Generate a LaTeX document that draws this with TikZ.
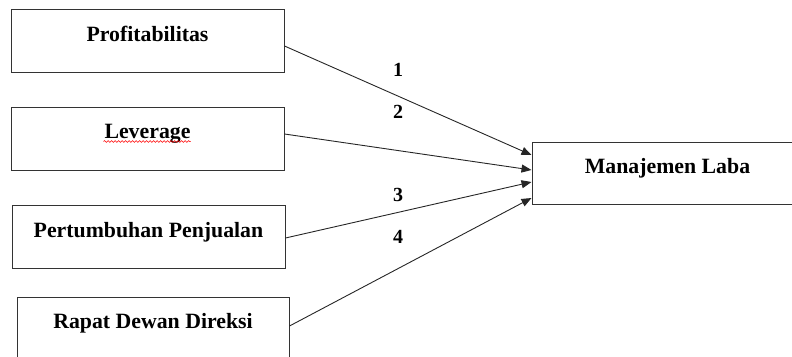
\documentclass[tikz,border=0pt]{standalone}
\usepackage{fontspec}
\setmainfont{Liberation Serif}
\usetikzlibrary{arrows.meta,decorations.pathmorphing}

\begin{document}
\begin{tikzpicture}[x=1pt,y=-1pt]
        \tikzset{VarBox/.style={draw=black!80, line width=1pt, minimum height=63pt,
            minimum width=273pt, inner sep=0pt, text height=15pt, text depth=15pt,
            font=\bfseries\fontsize{21.8}{26}\selectfont}}
        \tikzset{PathNum/.style={font=\bfseries\fontsize{20}{24}\selectfont, inner sep=0pt}}
        \tikzset{EdgeStyle/.style={black!85, line width=0.9pt, -{Triangle[length=10pt,width=8pt]}}}
        \useasboundingbox (0,0) rectangle (792,356);
        \node[VarBox] (prof) at (147.5,41) {Profitabilitas};
        \node[VarBox] (lev) at (147.5,138.5) {Leverage};
        \node[VarBox] (tumb) at (148.5,237) {Pertumbuhan Penjualan};
        \node[VarBox, minimum height=62pt, minimum width=272pt] (rapat) at (153,328) {Rapat Dewan Direksi};
        \node[VarBox, minimum height=62pt, minimum width=271pt] (laba) at (667.5,173) {Manajemen Laba};
        \draw[red, line width=0.6pt, decorate, decoration={snake, amplitude=0.9pt, segment length=3.5pt}]
            ([xshift=-44pt,yshift=-3pt]lev.center) -- ([xshift=43pt,yshift=-3pt]lev.center);
        \draw[EdgeStyle] ([yshift=-5pt]prof.east) -- ([yshift=18pt]laba.west);
        \draw[EdgeStyle] ([yshift=4.5pt]lev.east) -- ([yshift=3pt]laba.west);
        \draw[EdgeStyle] ([yshift=-1pt]tumb.east) -- ([yshift=-9pt]laba.west);
        \draw[EdgeStyle] ([yshift=2pt]rapat.east) -- ([yshift=-25pt]laba.west);
        \node[PathNum] (n1) at (398,70) {1};
        \node[PathNum] (n2) at (398,112) {2};
        \node[PathNum] (n3) at (398,195) {3};
        \node[PathNum] (n4) at (398,237) {4};
    \end{tikzpicture}
\end{document}
